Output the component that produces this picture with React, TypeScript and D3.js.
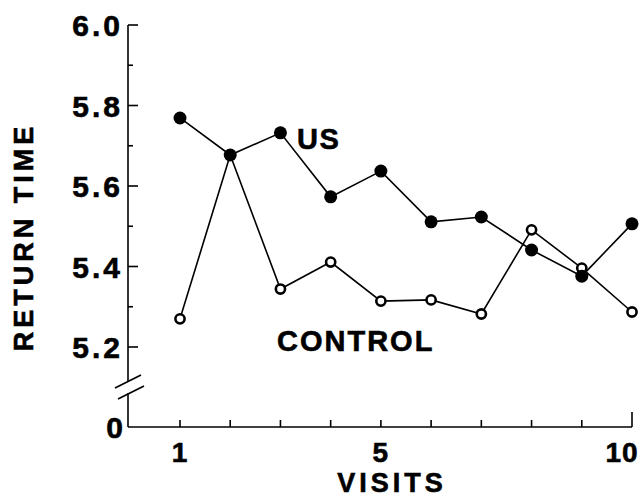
import React from "react";
import * as d3 from "d3";

const visits = [1, 2, 3, 4, 5, 6, 7, 8, 9, 10];
const usValues = [5.769, 5.677, 5.732, 5.573, 5.637, 5.511, 5.523, 5.441, 5.376, 5.506];
const controlValues = [5.27, 5.677, 5.344, 5.411, 5.314, 5.317, 5.282, 5.491, 5.396, 5.287];
const yMajorTicks = [5.2, 5.4, 5.6, 5.8, 6.0];
const yMinorTicks = [5.3, 5.5, 5.7, 5.9];
const xTickLabels = [1, 5, 10];

const W = 644;
const H = 501;
const FONT = "'Liberation Sans', Arial, Helvetica, sans-serif";

export default function App() {
  const x = d3.scaleLinear().domain([1, 10]).range([180, 632]);
  const y = d3.scaleLinear().domain([5.2, 6.0]).range([347, 25]);
  const axisX = 128;
  const baseY = 427;

  const line = d3
    .line<number>()
    .x((_, i) => x(visits[i]))
    .y((d) => y(d));

  const ls = 3;

  return (
    <svg
      width={W}
      height={H}
      style={{ position: "absolute", left: 0, top: 0, background: "#fff" }}
    >
      <g stroke="#000" strokeWidth={1.6} fill="none">
        <line x1={axisX} y1={y(6.0)} x2={axisX} y2={381} />
        <line x1={axisX} y1={393} x2={axisX} y2={baseY} />
        <line x1={115} y1={388} x2={141} y2={375} />
        <line x1={118} y1={399} x2={144} y2={386} />
        <line x1={axisX} y1={baseY} x2={x(10)} y2={baseY} />
        {yMajorTicks.map((t) => (
          <line key={"M" + t} x1={axisX} y1={y(t)} x2={axisX + 10} y2={y(t)} />
        ))}
        {yMinorTicks.map((t) => (
          <line key={"m" + t} x1={axisX} y1={y(t)} x2={axisX + 5} y2={y(t)} />
        ))}
        {visits.map((v) => (
          <line
            key={"x" + v}
            x1={x(v)}
            y1={baseY}
            x2={x(v)}
            y2={baseY - (v === 10 ? 15 : 7)}
          />
        ))}
      </g>

      <path d={line(controlValues) || ""} stroke="#000" strokeWidth={1.6} fill="none" />
      <path d={line(usValues) || ""} stroke="#000" strokeWidth={1.6} fill="none" />

      {controlValues.map((v, i) => (
        <circle
          key={"c" + i}
          cx={x(visits[i])}
          cy={y(v)}
          r={4.6}
          fill="#fff"
          stroke="#000"
          strokeWidth={2.6}
        />
      ))}
      {usValues.map((v, i) => (
        <circle key={"u" + i} cx={x(visits[i])} cy={y(v)} r={6.5} fill="#000" />
      ))}

      <g fontFamily={FONT} fontWeight="bold" fill="#000" stroke="#000" strokeWidth={0.6}>
        {yMajorTicks.map((t) => (
          <text
            key={"yl" + t}
            x={120 + ls}
            y={y(t) + 11}
            fontSize={30}
            textAnchor="end"
            letterSpacing={ls}
          >
            {t.toFixed(1)}
          </text>
        ))}
        <text x={123 + ls} y={baseY + 11} fontSize={30} textAnchor="end" letterSpacing={ls}>
          0
        </text>
        {xTickLabels.map((v) => (
          <text
            key={"xl" + v}
            x={v === 10 ? 622 : x(v)}
            y={462}
            fontSize={28}
            textAnchor="middle"
            letterSpacing={1}
          >
            {v}
          </text>
        ))}
        <text x={392} y={492} fontSize={27} textAnchor="middle" letterSpacing={4}>
          VISITS
        </text>
        <text
          transform={`translate(33, 237) rotate(-90)`}
          fontSize={27}
          textAnchor="middle"
          letterSpacing={4}
        >
          RETURN TIME
        </text>
        <text x={297} y={149} fontSize={29} letterSpacing={1.5}>
          US
        </text>
        <text x={277} y={351} fontSize={29} letterSpacing={2}>
          CONTROL
        </text>
      </g>
    </svg>
  );
}
